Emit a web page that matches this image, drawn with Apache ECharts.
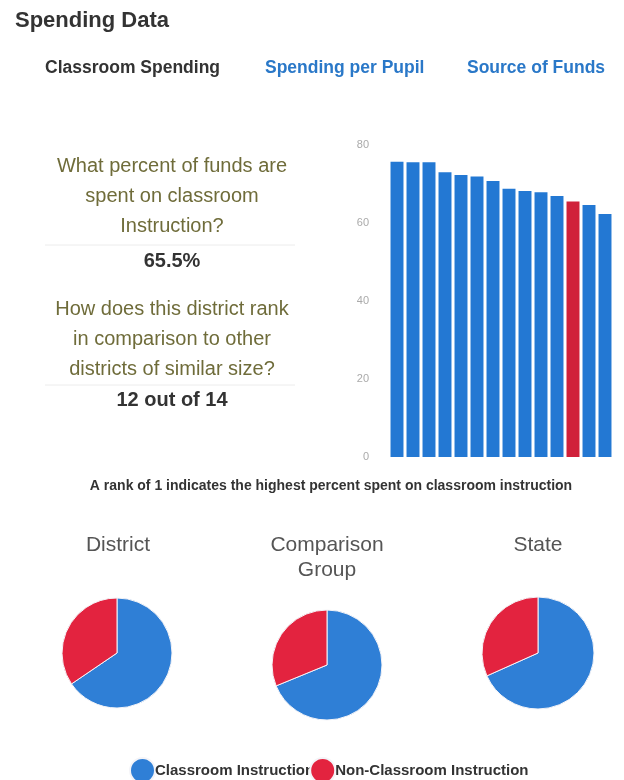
<!DOCTYPE html>
<html>
<head>
<meta charset="utf-8">
<script src="https://cdn.jsdelivr.net/npm/echarts@6/dist/echarts.min.js"></script>
<style>
html,body{margin:0;padding:0;background:#fff;}
#chart{width:624px;height:780px;}
</style>
</head>
<body>
<div id="chart"></div>
<script>
// ---- data ----
const rankCategories = ['1','2','3','4','5','6','7','8','9','10','11','12','13','14'];
const classroomPct = [75.7, 75.6, 75.6, 73.0, 72.3, 71.9, 70.8, 68.8, 68.2, 67.9, 66.9, 65.5, 64.6, 62.3];
const districtRankIndex = 11; // 12 out of 14
const yMin = 0, yMax = 80, yInterval = 20;

const pieGroups = ['District', 'Comparison\nGroup', 'State'];
const classroomShare = [65.5, 68.8, 68.3];
const nonClassroomShare = [34.5, 31.2, 31.7];
const sliceNames = ['Classroom Instruction', 'Non-Classroom Instruction'];

const headerTitle = 'Spending Data';
const tabs = ['Classroom Spending', 'Spending per Pupil', 'Source of Funds'];
const question1 = 'What percent of funds are\nspent on classroom\nInstruction?';
const answer1 = '65.5%';
const question2 = 'How does this district rank\nin comparison to other\ndistricts of similar size?';
const answer2 = '12 out of 14';
const note = 'A rank of 1 indicates the highest percent spent on classroom instruction';

// ---- styles ----
const BLUE_BAR = '#2378d3';
const RED_BAR = '#d0213a';
const BLUE_PIE = '#2f7fd6';
const RED_PIE = '#e3233f';
const FONT = '"Liberation Sans", Arial, sans-serif';

const chart = echarts.init(document.getElementById('chart'));

const pieLayout = [
  {center: [117, 653], r: 55, tx: 118, ty: 545},
  {center: [327, 665], r: 55, tx: 327, ty: 545},
  {center: [538, 653], r: 56, tx: 538, ty: 545}
];

const pieSeries = pieGroups.map((g, i) => ({
  type: 'pie',
  name: g,
  center: pieLayout[i].center,
  radius: pieLayout[i].r,
  startAngle: 90,
  clockwise: true,
  label: {show: false},
  labelLine: {show: false},
  silent: true,
  itemStyle: {borderColor: '#f4f4f8', borderWidth: 1},
  data: [
    {name: sliceNames[0], value: classroomShare[i], itemStyle: {color: BLUE_PIE}},
    {name: sliceNames[1], value: nonClassroomShare[i], itemStyle: {color: RED_PIE}}
  ]
}));

const graphics = [
  {type: 'text', x: 15, y: 21, style: {text: headerTitle, font: 'bold 22px ' + FONT, fill: '#333', verticalAlign: 'middle'}},
  {type: 'text', x: 45, y: 68, style: {text: tabs[0], font: 'bold 17.5px ' + FONT, fill: '#333', verticalAlign: 'middle'}},
  {type: 'text', x: 265, y: 68, style: {text: tabs[1], font: 'bold 17.5px ' + FONT, fill: '#2a78c8', verticalAlign: 'middle'}},
  {type: 'text', x: 467, y: 68, style: {text: tabs[2], font: 'bold 17.5px ' + FONT, fill: '#2a78c8', verticalAlign: 'middle'}},
  {type: 'text', x: 172, y: 151, style: {text: question1, font: '20px ' + FONT, fill: '#6f6c3a', align: 'center', verticalAlign: 'top', lineHeight: 30}},
  {type: 'line', shape: {x1: 45, y1: 245, x2: 295, y2: 245}, style: {stroke: '#ececec', lineWidth: 1}},
  {type: 'text', x: 172, y: 261, style: {text: answer1, font: 'bold 20px ' + FONT, fill: '#333', align: 'center', verticalAlign: 'middle'}},
  {type: 'text', x: 172, y: 294, style: {text: question2, font: '20px ' + FONT, fill: '#6f6c3a', align: 'center', verticalAlign: 'top', lineHeight: 30}},
  {type: 'line', shape: {x1: 45, y1: 385, x2: 295, y2: 385}, style: {stroke: '#ececec', lineWidth: 1}},
  {type: 'text', x: 172, y: 400, style: {text: answer2, font: 'bold 20px ' + FONT, fill: '#333', align: 'center', verticalAlign: 'middle'}},
  {type: 'text', x: 331, y: 486, style: {text: note, font: 'bold 14px ' + FONT, fill: '#333', align: 'center', verticalAlign: 'middle'}}
];
pieGroups.forEach((g, i) => {
  graphics.push({type: 'text', x: pieLayout[i].tx, y: pieLayout[i].ty - 12, style: {text: g, font: '21px ' + FONT, fill: '#555', align: 'center', verticalAlign: 'top', lineHeight: 25}});
});

chart.setOption({
  animation: false,
  backgroundColor: '#fff',
  grid: {left: 389, right: 11, top: 145, bottom: 323},
  xAxis: {
    type: 'category',
    data: rankCategories,
    axisLine: {show: false},
    axisTick: {show: false},
    axisLabel: {show: false}
  },
  yAxis: {
    type: 'value',
    min: yMin, max: yMax, interval: yInterval,
    axisLine: {show: false},
    axisTick: {show: false},
    splitLine: {show: false},
    axisLabel: {color: '#aaa', fontSize: 11, margin: 20, fontFamily: FONT}
  },
  legend: {
    data: sliceNames,
    left: 124,
    top: 752,
    icon: 'circle',
    itemWidth: 25,
    itemHeight: 25,
    itemGap: -5,
    selectedMode: false,
    textStyle: {fontFamily: FONT, fontWeight: 'bold', fontSize: 15, color: '#333', padding: [0, 0, 0, -5]}
  },
  series: [
    {
      type: 'bar',
      barCategoryGap: '19%',
      silent: true,
      data: classroomPct.map((v, i) => ({value: v, itemStyle: {color: i === districtRankIndex ? RED_BAR : BLUE_BAR}}))
    }
  ].concat(pieSeries),
  graphic: graphics
});
</script>
</body>
</html>
